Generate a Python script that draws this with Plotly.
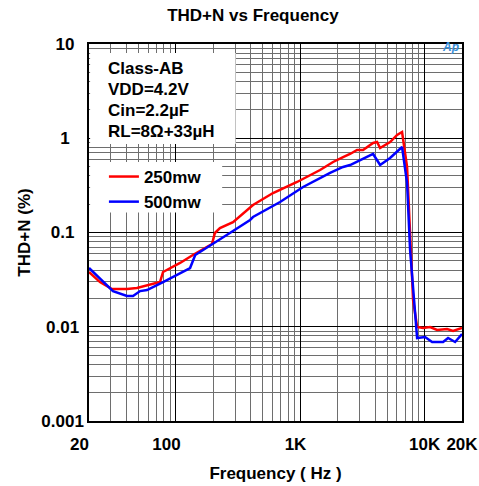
import plotly.graph_objects as go

# ---- data ----
freq_250 = [20, 20.4, 24.5, 30.6, 40.4, 48.6, 58.6, 74.5, 78.8, 108, 137, 195, 206, 226, 288,
            417, 604, 943, 1444, 1837, 2210, 2516, 2864, 3201, 3854, 4150, 4388, 5280, 6012,
            6592, 7232, 7646, 8084, 8710, 9728, 11074, 12610, 15172, 16960, 20000]
thd_250 = [0.0381, 0.0372, 0.0298, 0.0251, 0.0251, 0.0258, 0.0277, 0.0298, 0.0381, 0.0475,
           0.0577, 0.0755, 0.0988, 0.1116, 0.129, 0.1957, 0.2624, 0.3434, 0.4603, 0.5598,
           0.6324, 0.681, 0.750, 0.750, 0.890, 0.912, 0.788, 0.912, 1.083, 1.165, 0.4955,
           0.0988, 0.0192, 0.00994, 0.00970, 0.00994, 0.00924, 0.00946, 0.00902, 0.00970]

freq_500 = [20, 20.4, 24.5, 31.2, 40.4, 45.2, 51.5, 58.6, 78.8, 102, 130, 143, 195, 226, 288,
            395, 417, 688, 1054, 1738, 2210, 2516, 3028, 3854, 4388, 5280, 6592, 7232, 7646,
            8392, 8710, 10094, 11496, 14094, 15454, 17600, 20000]
thd_500 = [0.0420, 0.0410, 0.0329, 0.0239, 0.0212, 0.0212, 0.0239, 0.0245, 0.0298, 0.0354,
           0.0420, 0.0577, 0.0755, 0.0853, 0.1037, 0.1358, 0.146, 0.2107, 0.304, 0.428,
           0.4955, 0.520, 0.588, 0.681, 0.520, 0.617, 0.808, 0.335, 0.0652, 0.0162, 0.0076,
           0.00778, 0.00689, 0.00689, 0.0076, 0.00689, 0.00838]

x_tickvals = [20, 100, 1000, 10000, 20000]
x_labels = ["20", "100", "1K", "10K", "20K"]
y_tickvals = [0.001, 0.01, 0.1, 1, 10]
y_labels = ["0.001", "0.01", "0.1", "1", "10"]
x_minor = [m * 10 ** d for d in (1, 2, 3) for m in range(2, 10) if 20 < m * 10 ** d < 20000]
y_minor = [m * 10.0 ** d for d in (-3, -2, -1, 0) for m in range(2, 10)]

info_lines = ["Class-AB", "VDD=4.2V", "Cin=2.2µF", "RL=8Ω+33µH"]

FONT = "Liberation Sans, Arial, sans-serif"
NB = "\u00a0"
# label padding so labels sit like in the reference
x_pad = [4, 4, 2, 0, 0]
y_pad = [0, 1, 2, 3, 2]
x_ticktext = ["<b>" + t + NB * p + "</b>" for t, p in zip(x_labels, x_pad)]
y_ticktext = ["<b>" + t + NB * p + "</b>" for t, p in zip(y_labels, y_pad)]

fig = go.Figure()
fig.add_trace(go.Scatter(x=freq_250, y=thd_250, mode="lines", name="<b>250mw</b>",
                         line=dict(color="#ff0000", width=2.5)))
fig.add_trace(go.Scatter(x=freq_500, y=thd_500, mode="lines", name="<b>500mw</b>",
                         line=dict(color="#0000ff", width=2.5)))

# white boxes for the text block and legend (no trace passes through them)
fig.add_shape(type="rect", xref="paper", yref="paper", x0=0.003, x1=0.393, y0=0.735, y1=0.976,
              fillcolor="white", line=dict(width=0), layer="above")
fig.add_shape(type="rect", xref="paper", yref="paper", x0=0.003, x1=0.357, y0=0.553, y1=0.687,
              fillcolor="white", line=dict(width=0), layer="above")

for i, t in enumerate(info_lines):
    fig.add_annotation(xref="paper", yref="paper", x=0.046, y=1 - (68 + i * 21.3 - 44) / 377,
                       text="<b>" + t + "</b>", showarrow=False, xanchor="left", yanchor="middle",
                       font=dict(family=FONT, size=17, color="black"))

fig.add_annotation(xref="paper", yref="paper", x=0.997, y=0.993, text="<b><i>Ap</i></b>",
                   showarrow=False, xanchor="right", yanchor="middle",
                   font=dict(family=FONT, size=12, color="#3a8fd8"))

axis_common = dict(type="log", showline=True, linecolor="black", linewidth=1.5, mirror=True,
                   showgrid=True, gridcolor="black", gridwidth=1, ticks="", zeroline=False,
                   automargin=False, ticklabeloverflow="allow", tickangle=0,
                   tickfont=dict(family=FONT, size=17, color="black"))

fig.update_layout(
    width=479, height=486,
    margin=dict(l=89, r=17, t=44, b=65),
    paper_bgcolor="white", plot_bgcolor="white",
    title=dict(text="<b>THD+N vs Frequency</b>", x=0.528, xanchor="center", y=0.969,
               yanchor="middle", font=dict(family=FONT, size=17, color="black")),
    xaxis=dict(**axis_common, range=[1.30103, 4.30103], tickvals=x_tickvals, ticktext=x_ticktext,
               ticklabelstandoff=7,
               minor=dict(tickvals=x_minor, showgrid=True, gridcolor="#6e6e6e", gridwidth=1),
               title=dict(text="<b>Frequency ( Hz )</b>", standoff=14,
                          font=dict(family=FONT, size=17, color="black"))),
    yaxis=dict(**axis_common, range=[-3, 1], tickvals=y_tickvals, ticktext=y_ticktext,
               ticklabelstandoff=0,
               minor=dict(tickvals=y_minor, showgrid=True, gridcolor="#6e6e6e", gridwidth=1),
               title=dict(text="<b>THD+N (%)</b>", standoff=6,
                          font=dict(family=FONT, size=17, color="black"))),
    legend=dict(x=0.04, y=0.695, xanchor="left", yanchor="top", bgcolor="rgba(0,0,0,0)",
                font=dict(family=FONT, size=17, color="black"),
                tracegroupgap=0, itemwidth=30),
    showlegend=True,
)

fig.write_html("out.html")
